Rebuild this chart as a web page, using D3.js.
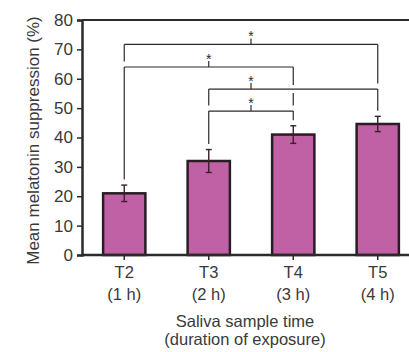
<!DOCTYPE html>
<html>
<head>
<meta charset="utf-8">
<script src="https://cdn.jsdelivr.net/npm/d3@7"></script>
<style>
  html, body { margin: 0; padding: 0; background: #fff; }
  svg { display: block; font-family: "Liberation Sans", Arial, sans-serif; }
</style>
</head>
<body>
<svg id="chart" width="409" height="352"></svg>
<script>
// Sample times and exposure durations
const categories = ["T2", "T3", "T4", "T5"];
const durations = ["(1 h)", "(2 h)", "(3 h)", "(4 h)"];
// Mean melatonin suppression (%) and error bar half-widths
const means = [21, 32, 41, 44.6];
const errors = [2.8, 3.9, 3.0, 2.6];
// Significance brackets: [from, to, level (%)]
const brackets = [
  ["T2", "T5", 71.7],
  ["T2", "T4", 64],
  ["T3", "T5", 56.5],
  ["T3", "T4", 49]
];
// Where each bracket's asterisk sits: midway between these two groups
const starBetween = [
  ["T2", "T5"],
  ["T2", "T4"],
  ["T3", "T4"],
  ["T3", "T4"]
];
const yTicks = [0, 10, 20, 30, 40, 50, 60, 70, 80];

(function draw() {
  const svg = d3.select("#chart");
  const plotLeft = 82, plotTop = 20, plotBottom = 255, plotRight = 420, visRight = 409;

  const x = d3.scaleBand().domain(categories).range([plotLeft, plotRight])
    .paddingInner(0.5).paddingOuter(0.25);
  const y = d3.scaleLinear().domain([0, 80]).range([plotBottom, plotTop]);
  const cx = c => x(c) + x.bandwidth() / 2;

  const ink = "#2b2b2b";
  const textInk = "#3a3a3a";

  // frame top line
  svg.append("line").attr("x1", plotLeft).attr("x2", visRight)
    .attr("y1", plotTop).attr("y2", plotTop)
    .attr("stroke", ink).attr("stroke-width", 2);

  // bars
  svg.append("g").selectAll("rect").data(categories).join("rect")
    .attr("x", c => x(c))
    .attr("y", (c, i) => y(means[i]))
    .attr("width", x.bandwidth())
    .attr("height", (c, i) => plotBottom - y(means[i]))
    .attr("fill", "#c161a5")
    .attr("stroke", "#2a1c24")
    .attr("stroke-width", 2.5);

  // error bars
  const eg = svg.append("g").attr("stroke", "#3a1f2c").attr("stroke-width", 1.4);
  categories.forEach((c, i) => {
    const xc = cx(c), hi = y(means[i] + errors[i]), lo = y(means[i] - errors[i]);
    eg.append("line").attr("x1", xc).attr("x2", xc).attr("y1", hi).attr("y2", lo);
    eg.append("line").attr("x1", xc - 3).attr("x2", xc + 3).attr("y1", hi).attr("y2", hi);
    eg.append("line").attr("x1", xc - 3).attr("x2", xc + 3).attr("y1", lo).attr("y2", lo);
  });

  // y axis
  const yAxis = svg.append("g").attr("transform", `translate(${plotLeft},0)`)
    .call(d3.axisLeft(y).tickValues(yTicks).tickSize(5).tickPadding(4));
  yAxis.select(".domain").attr("stroke", ink).attr("stroke-width", 2.5);
  yAxis.selectAll(".tick line").attr("stroke", ink).attr("stroke-width", 1.5);
  yAxis.selectAll(".tick text").attr("font-size", 17).attr("fill", textInk)
    .attr("font-family", "Liberation Sans, Arial, sans-serif");

  // x axis
  const xAxis = svg.append("g").attr("transform", `translate(0,${plotBottom})`)
    .call(d3.axisBottom(x).tickSize(5).tickPadding(5));
  xAxis.select(".domain").remove();
  svg.append("line").attr("x1", plotLeft).attr("x2", visRight)
    .attr("y1", plotBottom).attr("y2", plotBottom)
    .attr("stroke", ink).attr("stroke-width", 2.5);
  xAxis.selectAll(".tick line").attr("stroke", ink).attr("stroke-width", 1.5);
  xAxis.selectAll(".tick text").remove();
  const xl = svg.append("g").attr("fill", textInk).attr("font-size", 16.5).attr("text-anchor", "middle");
  categories.forEach((c, i) => {
    xl.append("text").attr("x", cx(c)).attr("y", 278).text(c);
    xl.append("text").attr("x", cx(c)).attr("y", 300).text(durations[i]);
  });

  // axis titles
  svg.append("text").attr("x", 245).attr("y", 327).attr("text-anchor", "middle")
    .attr("font-size", 16.5).attr("fill", textInk).text("Saliva sample time");
  svg.append("text").attr("x", 245).attr("y", 345).attr("text-anchor", "middle")
    .attr("font-size", 16.5).attr("fill", textInk).text("(duration of exposure)");
  svg.append("text").attr("transform", `translate(39,${(plotTop + plotBottom) / 2 + 3}) rotate(-90)`)
    .attr("text-anchor", "middle").attr("font-size", 17).attr("fill", textInk)
    .text("Mean melatonin suppression (%)");

  // significance brackets
  const bg = svg.append("g").attr("stroke", ink).attr("stroke-width", 1.2).attr("fill", "none");
  const legGap = 5.5, crossGap = 4;
  brackets.forEach(([a, b, level], k) => {
    const yl = y(level);
    bg.append("line").attr("x1", cx(a)).attr("x2", cx(b)).attr("y1", yl).attr("y2", yl);
    [a, b].forEach(c => {
      const i = categories.indexOf(c);
      // the leg stops above the nearest lower bracket ending here, or the error bar
      let stopVal = means[i] + errors[i];
      brackets.forEach(([a2, b2, l2]) => {
        if (l2 < level && (a2 === c || b2 === c)) stopVal = Math.max(stopVal, l2);
      });
      const yEnd = y(stopVal) - legGap;
      // gaps where the leg crosses other horizontals
      const crossings = brackets
        .filter(([a2, b2, l2]) => l2 < level && l2 > stopVal &&
          categories.indexOf(a2) < i && categories.indexOf(b2) > i)
        .map(d => y(d[2])).sort((p, q) => p - q);
      let yStart = yl;
      crossings.forEach(yc => {
        bg.append("line").attr("x1", cx(c)).attr("x2", cx(c)).attr("y1", yStart).attr("y2", yc - crossGap);
        yStart = yc + crossGap;
      });
      bg.append("line").attr("x1", cx(c)).attr("x2", cx(c)).attr("y1", yStart).attr("y2", yEnd);
    });
    const [s1, s2] = starBetween[k];
    const xm = (cx(s1) + cx(s2)) / 2;
    bg.append("line").attr("x1", xm).attr("x2", xm).attr("y1", yl).attr("y2", yl - 6);
    svg.append("text").attr("x", xm).attr("y", yl - 3.5).attr("text-anchor", "middle")
      .attr("font-size", 14).attr("fill", ink).text("*");
  });
})();
</script>
</body>
</html>
